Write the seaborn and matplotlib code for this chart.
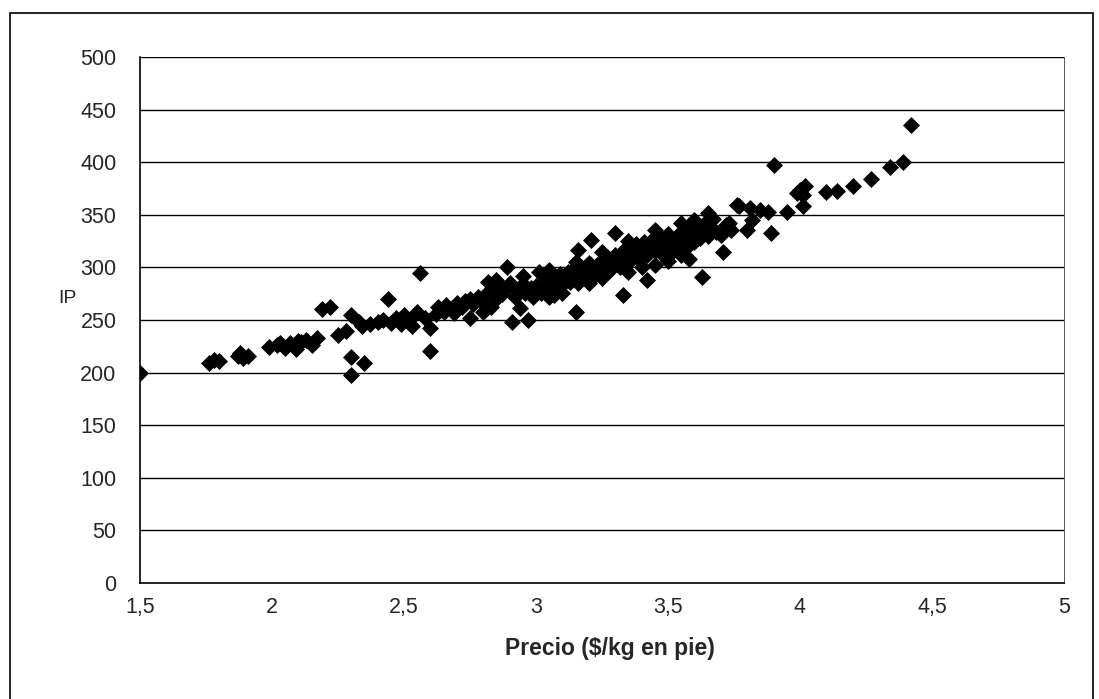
import numpy as np
import pandas as pd
import seaborn as sns
import matplotlib.pyplot as plt
from matplotlib.patches import Rectangle
from matplotlib.ticker import FuncFormatter

# valores (precio, IP)
precio = [1.50, 1.76, 1.78, 1.80, 1.87, 1.88, 1.89, 1.91, 1.99, 2.02, 2.05, 2.07, 2.09, 2.11,
          2.13, 2.15, 2.17, 2.19, 2.22, 2.25, 2.28, 2.30, 2.30, 2.30, 2.33, 2.35, 2.34, 2.37,
          2.40, 2.42, 2.44, 2.45, 2.47, 2.49, 2.50, 2.52, 2.53, 2.55, 2.56, 2.58, 2.60, 2.60,
          2.62, 2.63, 2.65, 2.66, 2.68, 2.69, 2.70, 2.72, 2.73, 2.75, 2.75, 2.76, 2.78, 2.79,
          2.80, 2.81, 2.82, 2.83, 2.84, 2.85, 2.86, 2.87, 2.89, 2.89, 2.90, 2.91, 2.92, 2.93,
          2.94, 2.95, 2.96, 2.97, 2.98, 2.99, 3.00, 3.01, 3.02, 3.03, 3.04, 3.05, 3.06, 3.07,
          3.08, 3.09, 3.10, 3.11, 3.12, 3.13, 3.14, 3.15, 3.15, 3.16, 3.16, 3.17, 3.18, 3.19,
          3.20, 3.21, 3.21, 3.22, 3.23, 3.24, 3.25, 3.26, 3.27, 3.28, 3.29, 3.30, 3.30, 3.31,
          3.32, 3.33, 3.33, 3.34, 3.35, 3.36, 3.37, 3.38, 3.39, 3.40, 3.41, 3.42, 3.42, 3.43,
          3.44, 3.45, 3.46, 3.47, 3.48, 3.49, 3.50, 3.51, 3.52, 3.53, 3.54, 3.55, 3.56, 3.57,
          3.58, 3.59, 3.60, 3.61, 3.62, 3.63, 3.63, 3.64, 3.65, 3.65, 3.66, 3.67, 3.68, 3.70,
          3.71, 3.72, 3.73, 3.74, 3.76, 3.77, 3.80, 3.81, 3.82, 3.85, 3.88, 3.89, 3.90, 3.95,
          3.99, 4.00, 4.01, 4.01, 4.02, 4.10, 4.14, 4.20, 4.27, 4.34, 4.39, 4.42,
          3.50, 3.55, 3.58, 3.45, 3.40, 3.35, 3.25, 3.20, 3.10, 3.05,
          3.35, 3.45, 3.55, 3.60, 3.25, 3.15, 3.05, 2.95, 2.85, 2.03, 2.10]
ip = [200, 209, 212, 211, 216, 219, 214, 216, 224, 226, 223, 228, 222, 229,
      231, 226, 233, 260, 262, 236, 240, 255, 215, 198, 248, 209, 244, 246,
      248, 250, 270, 247, 252, 246, 255, 250, 244, 258, 295, 252, 242, 221,
      256, 262, 258, 264, 260, 257, 266, 262, 268, 252, 270, 265, 272, 268,
      258, 275, 286, 262, 278, 270, 282, 275, 300, 280, 285, 248, 272, 278,
      261, 284, 276, 250, 280, 272, 282, 296, 276, 285, 278, 290, 282, 274,
      288, 294, 283, 290, 296, 286, 298, 258, 292, 317, 285, 300, 290, 296,
      304, 326, 298, 292, 302, 296, 306, 300, 310, 298, 304, 333, 312, 306,
      300, 274, 316, 310, 304, 318, 312, 322, 308, 316, 324, 288, 312, 320,
      326, 316, 330, 320, 312, 326, 332, 320, 316, 328, 322, 334, 326, 318,
      330, 338, 324, 332, 328, 291, 336, 342, 352, 330, 338, 346, 334, 331,
      315, 340, 342, 336, 359, 358, 336, 356, 345, 355, 353, 333, 397, 353,
      371, 374, 369, 358, 377, 372, 373, 377, 384, 395, 400, 435,
      306, 312, 308, 302, 300, 296, 290, 285, 276, 272,
      325, 336, 342, 345, 315, 305, 298, 292, 288, 228, 230]

x_ticks = [1.5, 2, 2.5, 3, 3.5, 4, 4.5, 5]
y_ticks = [0, 50, 100, 150, 200, 250, 300, 350, 400, 450, 500]

df = pd.DataFrame({"precio": precio, "ip": ip})

sns.set_style("white")
plt.rcParams['font.family'] = ['Liberation Sans', 'DejaVu Sans']

fig = plt.figure(figsize=(10.99, 6.99), dpi=100)
ax = fig.add_axes([140 / 1099, 116 / 699, 924 / 1099, 526 / 699])

sns.scatterplot(data=df, x="precio", y="ip", marker="D", color="black",
                s=75, linewidth=0, ax=ax, zorder=3)

ax.set_xlim(1.5, 5)
ax.set_ylim(0, 500)
ax.set_xticks(x_ticks)
ax.set_yticks(y_ticks)
ax.xaxis.set_major_formatter(FuncFormatter(lambda v, p: ("%g" % v).replace(".", ",")))
ax.tick_params(axis="both", labelsize=15.5, color="black", direction="inout", length=6, width=1)
ax.tick_params(axis="x", pad=7)
ax.tick_params(axis="y", pad=14)

for yv in y_ticks[1:]:
    ax.axhline(yv, color="black", linewidth=1.0, zorder=1)

for side in ["left", "bottom", "right"]:
    ax.spines[side].set_color("black")
    ax.spines[side].set_linewidth(1.2)
ax.spines["right"].set_linewidth(0.7)
ax.spines["right"].set_color("#555555")
ax.spines["top"].set_visible(False)

ax.set_xlabel("Precio ($/kg en pie)", fontsize=16.5, fontweight="bold", va="center")
ax.xaxis.set_label_coords(0.509, -0.124)
ax.set_ylabel("IP", fontsize=14, rotation=0, ha="center", va="center")
ax.yaxis.set_label_coords(-0.078, 0.54)

fig.patches.append(Rectangle((10 / 1099, -0.02), 1083 / 1099, 1 - 13 / 699 + 0.02,
                             transform=fig.transFigure, fill=False,
                             edgecolor="black", linewidth=1.2))

fig.savefig("out.png", dpi=100)
